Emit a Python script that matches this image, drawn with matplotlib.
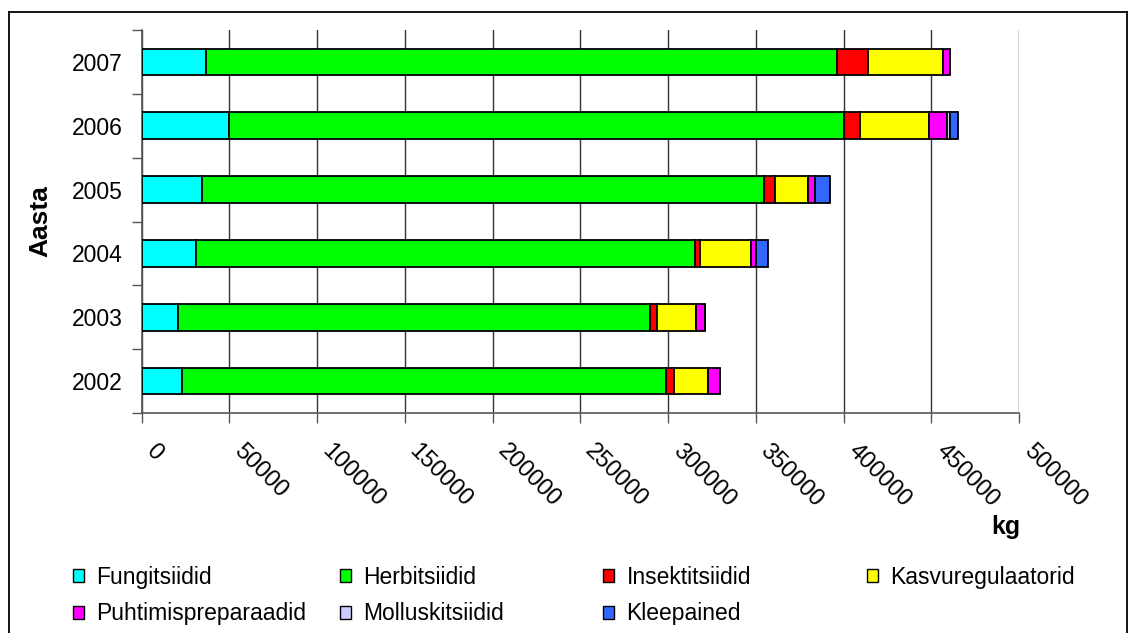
import matplotlib
matplotlib.use("Agg")
import matplotlib.pyplot as plt
import numpy as np
from matplotlib.transforms import ScaledTranslation
from matplotlib.patches import Patch
from matplotlib.lines import Line2D

plt.rcParams['font.family'] = ['Liberation Sans', 'DejaVu Sans']

years = ["2002", "2003", "2004", "2005", "2006", "2007"]
series_names = ["Fungitsiidid", "Herbitsiidid", "Insektitsiidid", "Kasvuregulaatorid",
                "Puhtimispreparaadid", "Molluskitsiidid", "Kleepained"]
fungitsiidid = [22800, 20700, 31100, 34200, 49800, 36500]
herbitsiidid = [276100, 269100, 284500, 320200, 350600, 359900]
insektitsiidid = [4400, 4000, 2500, 6500, 8700, 17700]
kasvuregulaatorid = [19700, 22000, 29100, 18600, 39400, 42700]
puhtimispreparaadid = [6700, 5500, 3000, 4200, 10400, 3600]
molluskitsiidid = [0, 0, 0, 0, 1500, 0]
kleepained = [0, 0, 6500, 8700, 5100, 0]
colors = ["#00FFFF", "#00FF00", "#FF0000", "#FFFF00", "#FF00FF", "#CCCCFF", "#3366FF"]
xticks = [0, 50000, 100000, 150000, 200000, 250000, 300000, 350000, 400000, 450000, 500000]

W, H = 1130, 633
fig = plt.figure(figsize=(W / 100, H / 100), dpi=100)
ax = fig.add_axes([141.7 / W, 1 - 413 / H, (1019 - 141.7) / W, (413 - 30) / H])

data = [fungitsiidid, herbitsiidid, insektitsiidid, kasvuregulaatorid,
        puhtimispreparaadid, molluskitsiidid, kleepained]
y = np.arange(len(years))
left = np.zeros(len(years))
for vals, c, name in zip(data, colors, series_names):
    v = np.array(vals, dtype=float)
    ax.barh(y, v, left=left, height=0.42, color=c, edgecolor="black",
            linewidth=1.3, label=name, zorder=3)
    left += v

ax.set_xlim(0, 500000)
ax.set_ylim(-0.5, len(years) - 0.5)
ax.set_xticks(xticks)
ax.set_xticklabels([str(t) for t in xticks])
ax.set_yticks(y)
ax.set_yticklabels(years)
ax.set_yticks(np.arange(-0.5, len(years), 1.0), minor=True)
ax.tick_params(axis="y", which="major", length=0, pad=14, labelsize=16.5)
ax.tick_params(axis="y", which="minor", length=7, width=1, color="#555555", direction="out")
ax.tick_params(axis="x", which="major", length=7, width=1, color="#555555", direction="out",
               labelsize=17, pad=18)

offset = ScaledTranslation(8 / 100, 0, fig.dpi_scale_trans)
for lab in ax.get_xticklabels():
    lab.set_rotation(-45)
    lab.set_ha("left")
    lab.set_va("center")
    lab.set_rotation_mode("anchor")
    lab.set_transform(lab.get_transform() + offset)

ax.xaxis.grid(True, color="#333333", linewidth=1.0, zorder=0)
ax.set_axisbelow(True)
for s in ["top", "right"]:
    ax.spines[s].set_visible(False)
for s in ["left", "bottom"]:
    ax.spines[s].set_color("#555555")
    ax.spines[s].set_linewidth(1.2)

ax.set_ylabel("Aasta", fontsize=19, fontweight="bold", labelpad=14)
fig.text(1020 / W, 1 - 527 / H, "kg", fontsize=18, fontweight="bold", ha="right", va="center")

# Legend: four columns with evenly spaced starts
handles = [Patch(facecolor=c, edgecolor="black", linewidth=1.0) for c in colors]
columns = [[0, 4], [1, 5], [2, 6], [3]]
col_x = [73, 340, 603, 867]
for cx, idxs in zip(col_x, columns):
    leg = fig.legend([handles[i] for i in idxs], [series_names[i] for i in idxs],
                     loc="upper left", bbox_to_anchor=(cx / W, 1 - 566 / H),
                     frameon=False, fontsize=16.5, handlelength=0.48, handleheight=0.48,
                     handletextpad=0.55, labelspacing=0.58, borderaxespad=0, borderpad=0)

# outer frame
fx0, fy0, fx1 = 9, 12, 1127
fig.add_artist(Line2D([fx0 / W, fx0 / W], [0, 1 - fy0 / H], color="black", linewidth=1.3,
                      transform=fig.transFigure))
fig.add_artist(Line2D([fx0 / W, fx1 / W], [1 - fy0 / H, 1 - fy0 / H], color="black",
                      linewidth=1.3, transform=fig.transFigure))
fig.add_artist(Line2D([fx1 / W, fx1 / W], [0, 1 - fy0 / H], color="black", linewidth=1.3,
                      transform=fig.transFigure))

fig.savefig("out.png", dpi=100)
